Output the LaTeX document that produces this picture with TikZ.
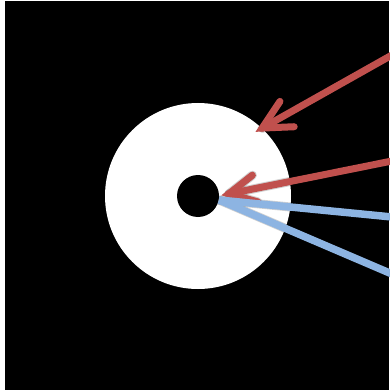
\documentclass[tikz,border=0pt]{standalone}
\usetikzlibrary{calc}
\definecolor{arrred}{HTML}{C0504D}
\definecolor{arrblue}{HTML}{8DB4E2}
\begin{document}
\begin{tikzpicture}[x=1pt,y=-1pt,
  redarrow/.style={draw=arrred,line width=7pt,line cap=round,line join=miter,miter limit=4},
  bluearrow/.style={draw=arrblue,line width=7.5pt,line cap=butt},
  shade/.style={draw=black,opacity=0.18,line width=9pt,line cap=round,line join=round}]
\useasboundingbox (0,0) rectangle (389,390);
\fill[white] (0,0) rectangle (389,390);
\fill[black] (5,1) rectangle (389,390);
% disk
\node[circle,fill=white,minimum size=186pt,inner sep=0pt] (disk) at (198,196) {};
\node[circle,fill=black,minimum size=42pt,inner sep=0pt] (hole) at (198,196) {};
% coordinates
\coordinate (s1) at (392,55);
\coordinate (t1) at ($(257,131)!6pt!(s1)$);
\coordinate (s2) at (392,161);
\coordinate (t2) at ($(223,195)!6pt!(s2)$);
\coordinate (b0) at (219,200);
\coordinate (e1) at (392,217);
\coordinate (e2) at (392,274);
% shadows
\begin{scope}[shift={(3,4)}]
\clip (198,196) circle (93);
\draw[shade] ($(t1)!32pt!27:(s1)$) -- (t1) -- ($(t1)!32pt!-27:(s1)$);
\draw[shade] (t1) -- (s1);
\draw[shade] ($(t2)!30pt!27:(s2)$) -- (t2) -- ($(t2)!30pt!-27:(s2)$);
\draw[shade] (t2) -- (s2);
\draw[shade] (b0) -- (e1);
\draw[shade] (b0) -- (e2);
\end{scope}
% red arrows
\draw[redarrow] (s1) -- (t1);
\draw[redarrow] ($(t1)!32pt!27:(s1)$) -- (t1) -- ($(t1)!32pt!-27:(s1)$);
\draw[redarrow] (s2) -- (t2);
\draw[redarrow] ($(t2)!30pt!27:(s2)$) -- (t2) -- ($(t2)!30pt!-27:(s2)$);
% blue lines
\draw[bluearrow] (b0) -- (e1);
\draw[bluearrow] (b0) -- (e2);
\end{tikzpicture}
\end{document}
